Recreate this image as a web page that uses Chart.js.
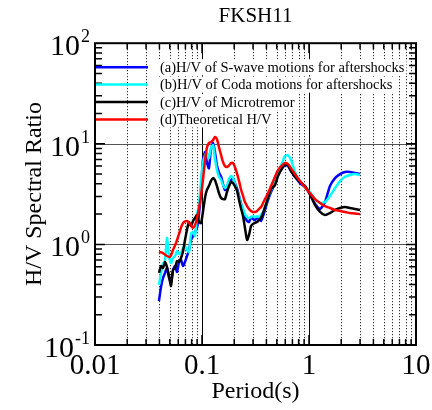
<!DOCTYPE html>
<html>
<head>
<meta charset="utf-8">
<script src="https://cdn.jsdelivr.net/npm/chart.js@4.4.0/dist/chart.umd.min.js"></script>
<style>
  html, body { margin: 0; padding: 0; background: #fff; }
</style>
</head>
<body>
<canvas id="myChart" width="432" height="410"></canvas>
<script>
const serif = 'Liberation Serif';

// periods (s) shared by the three observed curves
const periodObs = [
  0.0396, 0.0414, 0.0432, 0.0451, 0.0471, 0.0492, 0.0513, 0.0536, 0.0560, 0.0584,
  0.0610, 0.0637, 0.0664, 0.0693, 0.0724, 0.0756, 0.0789, 0.0824, 0.0860, 0.0898,
  0.0937, 0.0980, 0.102, 0.107, 0.111, 0.116, 0.121, 0.127, 0.132, 0.138,
  0.144, 0.151, 0.157, 0.164, 0.171, 0.179, 0.187, 0.195, 0.203, 0.212,
  0.222, 0.231, 0.242, 0.252, 0.264, 0.275, 0.287, 0.300, 0.313, 0.327,
  0.341, 0.356, 0.372, 0.388, 0.414, 0.442, 0.481, 0.513, 0.560, 0.597,
  0.637, 0.680, 0.740, 0.824, 0.918, 1.02, 1.14, 1.27, 1.41, 1.57,
  1.75, 1.95, 2.17, 2.42, 2.69, 3.0
];
const hvSwave = [
  0.274, 0.378, 0.464, 0.52, 0.583, 0.464, 0.424, 0.557, 0.61, 0.532,
  0.668, 0.70, 0.61, 0.668, 0.767, 0.88, 1.107, 1.21, 1.33, 1.46,
  2.0, 3.47, 6.9, 8.3, 6.6, 5.7, 8.6, 10.2, 8.3, 6.1,
  5.2, 4.7, 4.0, 3.47, 3.7, 4.2, 4.36, 4.56, 4.07, 3.63,
  3.03, 2.58, 2.2, 1.87, 1.71, 1.67, 1.87, 1.79, 1.75, 1.83,
  1.79, 1.71, 1.91, 2.2, 2.76, 3.31, 4.07, 4.89, 5.7, 6.1,
  6.0, 5.36, 4.7, 4.07, 3.7, 3.16, 2.52, 2.25, 2.64, 3.8,
  4.56, 5.0, 5.24, 5.24, 5.12, 5.0
];
const hvCoda = [
  0.395, 0.52, 0.638, 0.69, 1.16, 0.767, 0.653, 0.733, 0.767, 0.86,
  0.803, 0.822, 0.92, 0.964, 0.88, 0.84, 1.27, 1.33, 1.21, 1.96,
  2.46, 4.36, 6.43, 7.7, 8.1, 7.2, 9.06, 9.7, 7.2, 5.48,
  4.7, 4.36, 3.89, 3.63, 3.8, 4.46, 4.78, 4.56, 4.0, 3.47,
  2.96, 2.52, 2.25, 2.0, 1.87, 1.83, 1.87, 1.91, 1.87, 1.91,
  1.87, 1.96, 2.10, 2.35, 2.89, 3.47, 4.26, 5.24, 6.43, 7.55,
  7.7, 6.89, 5.24, 4.26, 3.7, 3.31, 2.82, 2.58, 2.64, 3.03,
  3.63, 4.26, 4.7, 4.89, 5.0, 4.89
];
const hvMicro = [
  0.52, 0.61, 0.583, 0.668, 0.596, 0.485, 0.386, 0.557, 0.583, 0.684,
  0.668, 0.733, 0.85, 1.1, 1.4, 1.67, 1.52, 1.71, 1.83, 1.96,
  1.67, 1.63, 2.10, 2.96, 3.47, 3.8, 4.26, 4.56, 4.36, 3.8,
  3.24, 2.89, 2.82, 2.82, 3.31, 3.8, 4.17, 4.07, 3.8, 3.47,
  2.76, 2.30, 1.91, 1.46, 1.107, 1.24, 1.52, 1.60, 1.64, 1.67,
  1.75, 1.83, 2.05, 2.35, 2.89, 3.55, 3.89, 4.78, 5.7, 6.28,
  6.1, 5.36, 4.7, 4.17, 3.8, 3.16, 2.46, 2.10, 1.96, 2.05,
  2.2, 2.30, 2.35, 2.30, 2.25, 2.2
];

// theoretical curve
const periodTheory = [
  0.0396, 0.0432, 0.0471, 0.0502, 0.0536, 0.0571, 0.0610, 0.0664, 0.0724, 0.0773,
  0.0824, 0.0879, 0.0937, 0.0980, 0.102, 0.107, 0.111, 0.116, 0.121, 0.127,
  0.132, 0.138, 0.144, 0.151, 0.157, 0.164, 0.171, 0.179, 0.187, 0.195,
  0.203, 0.212, 0.222, 0.231, 0.242, 0.252, 0.264, 0.275, 0.287, 0.300,
  0.313, 0.327, 0.341, 0.356, 0.372, 0.388, 0.414, 0.442, 0.481, 0.513,
  0.560, 0.597, 0.637, 0.680, 0.740, 0.824, 0.918, 1.02, 1.14, 1.27,
  1.41, 1.57, 1.75, 1.95, 2.17, 2.42, 2.69, 3.0
];
const hvTheory = [
  0.84, 0.82, 0.767, 0.75, 0.88, 1.03, 1.27, 1.63, 1.71, 1.60,
  1.46, 1.67, 2.30, 3.09, 4.36, 6.9, 9.06, 10.2, 10.4, 10.9,
  11.7, 11.1, 9.27, 7.7, 6.6, 6.0, 5.87, 6.1, 6.43, 6.43,
  5.87, 5.12, 4.26, 3.55, 3.03, 2.64, 2.40, 2.25, 2.15, 2.10,
  2.10, 2.15, 2.25, 2.35, 2.58, 2.82, 3.24, 3.8, 4.7, 5.48,
  6.1, 6.43, 6.28, 5.7, 5.0, 4.26, 3.7, 3.24, 2.82, 2.58,
  2.40, 2.30, 2.2, 2.15, 2.10, 2.05, 2.03, 2.0
];

const xTicks = [0.01, 0.1, 1, 10];
const xTickLabels = ['0.01', '0.1', '1', '10'];
const yTicks = [0.1, 1, 10, 100];
const yTickExponents = ['-1', '0', '1', '2'];

const seriesLabels = [
  '(a)H/V of S-wave motions for aftershocks',
  '(b)H/V of Coda motions for aftershocks',
  '(c)H/V of Microtremor',
  '(d)Theoretical H/V'
];
const seriesColors = ['#0000ff', '#00ffff', '#000000', '#ff0000'];

function pairs(xs, ys) {
  return xs.map((x, i) => ({ x: x, y: ys[i] }));
}

// grid lines, inner ticks, frame, y labels and legend
const hvFrame = {
  id: 'hvFrame',
  beforeDatasetsDraw(chart) {
    const { ctx, chartArea: a, scales: { x, y } } = chart;
    ctx.save();
    ctx.lineWidth = 1;
    ctx.strokeStyle = '#000';
    ctx.setLineDash([1, 2]);
    for (let i = 0; i < xTicks.length - 1; i++) {
      for (let m = 2; m <= 9; m++) {
        const px = Math.round(x.getPixelForValue(xTicks[i] * m)) + 0.5;
        ctx.beginPath();
        ctx.moveTo(px, a.top);
        ctx.lineTo(px, a.bottom);
        ctx.stroke();
      }
    }
    ctx.setLineDash([]);
    xTicks.slice(1, -1).forEach(v => {
      const px = Math.round(x.getPixelForValue(v)) + 0.5;
      ctx.beginPath();
      ctx.moveTo(px, a.top);
      ctx.lineTo(px, a.bottom);
      ctx.stroke();
    });
    ctx.strokeStyle = '#555';
    yTicks.slice(1, -1).forEach(v => {
      const py = Math.round(y.getPixelForValue(v)) + 0.5;
      ctx.beginPath();
      ctx.moveTo(a.left, py);
      ctx.lineTo(a.right, py);
      ctx.stroke();
    });
    ctx.restore();
  },
  afterDatasetsDraw(chart) {
    const { ctx, chartArea: a, scales: { x, y } } = chart;
    ctx.save();
    ctx.strokeStyle = '#000';
    ctx.lineWidth = 1.5;
    // inner ticks
    for (let i = 0; i < xTicks.length - 1; i++) {
      for (let m = 1; m <= 9; m++) {
        const px = x.getPixelForValue(xTicks[i] * m);
        const len = m === 1 ? 10 : 6;
        ctx.beginPath();
        ctx.moveTo(px, a.bottom); ctx.lineTo(px, a.bottom - len);
        ctx.moveTo(px, a.top); ctx.lineTo(px, a.top + len);
        ctx.stroke();
      }
    }
    for (let i = 0; i < yTicks.length - 1; i++) {
      for (let m = 1; m <= 9; m++) {
        const py = y.getPixelForValue(yTicks[i] * m);
        const len = m === 1 ? 10 : 7;
        ctx.beginPath();
        ctx.moveTo(a.left, py); ctx.lineTo(a.left + len, py);
        ctx.moveTo(a.right, py); ctx.lineTo(a.right - len, py);
        ctx.stroke();
      }
    }
    // frame
    ctx.lineWidth = 2;
    ctx.strokeRect(a.left, a.top, a.right - a.left, a.bottom - a.top);

    // y tick labels 10^n
    ctx.fillStyle = '#000';
    ctx.textBaseline = 'alphabetic';
    yTicks.forEach((v, i) => {
      const py = y.getPixelForValue(v);
      ctx.font = '18px "' + serif + '"';
      ctx.textAlign = 'right';
      const expW = ctx.measureText(yTickExponents[i]).width;
      ctx.fillText(yTickExponents[i], a.left - 5, py - 1);
      ctx.font = '30px "' + serif + '"';
      ctx.fillText('10', a.left - 6 - expW, py + 12);
    });

    // legend
    ctx.font = '14.5px "' + serif + '"';
    ctx.textAlign = 'left';
    ctx.textBaseline = 'middle';
    chart.data.datasets.forEach((ds, i) => {
      const yy = a.top + 24 + i * 17.4;
      const tx = a.left + 65;
      const w = ctx.measureText(ds.label).width;
      ctx.fillStyle = '#fff';
      ctx.fillRect(tx - 1, yy - 8, w + 3, 16);
      ctx.strokeStyle = ds.borderColor;
      ctx.lineWidth = 2.5;
      ctx.beginPath();
      ctx.moveTo(a.left + 1, yy);
      ctx.lineTo(a.left + 53, yy);
      ctx.stroke();
      ctx.fillStyle = '#000';
      ctx.fillText(ds.label, tx, yy + 1);
    });
    ctx.restore();
  }
};

const ctx = document.getElementById('myChart').getContext('2d');

new Chart(ctx, {
  type: 'line',
  data: {
    datasets: [
      { label: seriesLabels[0], data: pairs(periodObs, hvSwave), borderColor: seriesColors[0], order: 3, tension: 0.2 },
      { label: seriesLabels[1], data: pairs(periodObs, hvCoda), borderColor: seriesColors[1], order: 2, tension: 0.2 },
      { label: seriesLabels[2], data: pairs(periodObs, hvMicro), borderColor: seriesColors[2], order: 1, tension: 0.2 },
      { label: seriesLabels[3], data: pairs(periodTheory, hvTheory), borderColor: seriesColors[3], order: 0, tension: 0.35 }
    ]
  },
  options: {
    responsive: false,
    animation: false,
    devicePixelRatio: 1,
    events: [],
    layout: { padding: { left: 0, right: 16, top: 0, bottom: 0 } },
    elements: {
      point: { radius: 0 },
      line: { borderWidth: 2.5, fill: false }
    },
    plugins: {
      legend: { display: false },
      tooltip: { enabled: false },
      title: {
        display: true,
        fullSize: false,
        text: 'FKSH11',
        color: '#000',
        font: { family: serif, size: 21, weight: 'normal' },
        padding: { top: 4, bottom: 14 }
      }
    },
    scales: {
      x: {
        type: 'logarithmic',
        min: 0.01,
        max: 10,
        afterBuildTicks: s => { s.ticks = xTicks.map(v => ({ value: v })); },
        afterFit: s => { s.height = 65; },
        grid: { display: false },
        border: { display: false },
        ticks: {
          autoSkip: false,
          maxRotation: 0,
          padding: -4,
          color: '#000',
          font: { family: serif, size: 29 },
          callback: (v, i) => xTickLabels[i]
        },
        title: {
          display: true,
          text: 'Period(s)',
          color: '#000',
          font: { family: serif, size: 24 },
          padding: { top: 0, bottom: 4 }
        }
      },
      y: {
        type: 'logarithmic',
        min: 0.1,
        max: 100,
        afterBuildTicks: s => { s.ticks = yTicks.map(v => ({ value: v })); },
        afterFit: s => { s.width = 95; },
        grid: { display: false },
        border: { display: false },
        ticks: { display: false },
        title: {
          display: true,
          text: 'H/V Spectral Ratio',
          color: '#000',
          font: { family: serif, size: 24 },
          padding: { top: 20, bottom: 0 }
        }
      }
    }
  },
  plugins: [hvFrame]
});
</script>
</body>
</html>
